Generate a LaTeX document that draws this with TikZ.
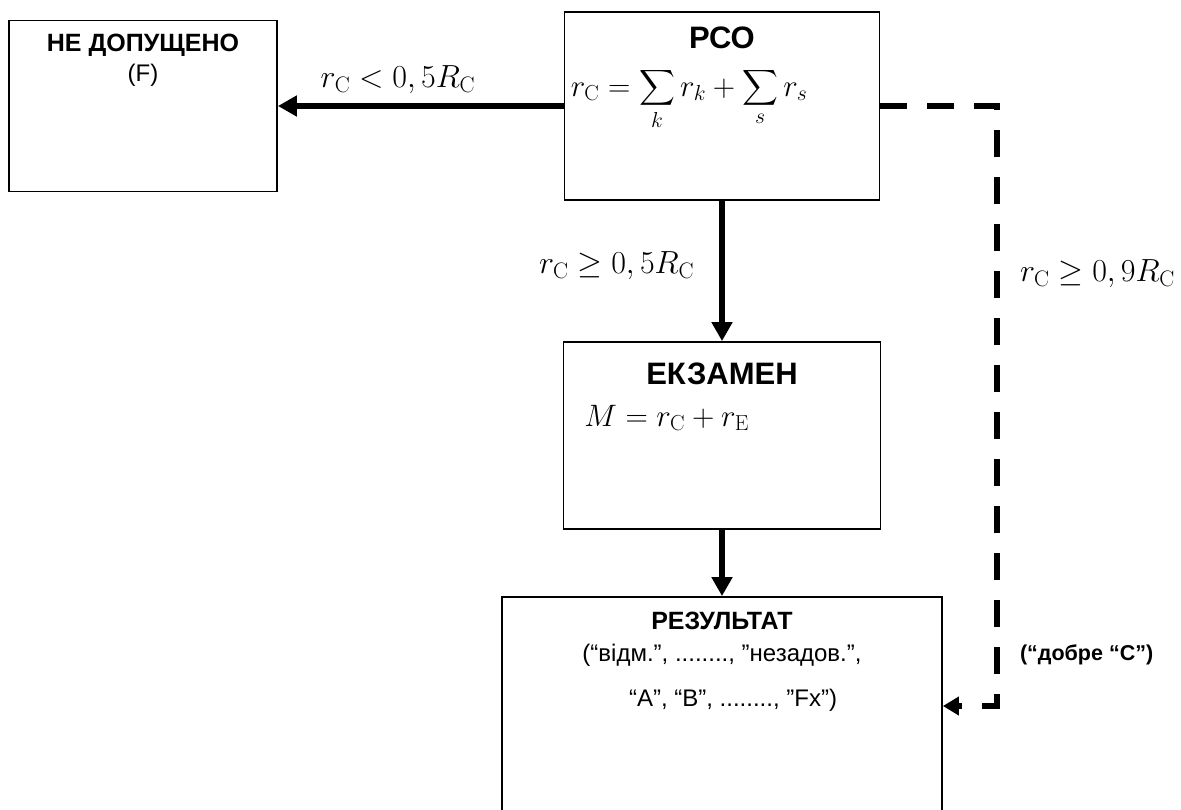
\RequirePackage{fix-cm}
\documentclass[tikz,border=0pt]{standalone}
\usepackage{exscale}
\usepackage{fontspec}
\newfontfamily\arialfont{Liberation Sans}
\usetikzlibrary{positioning, arrows.meta}

\begin{document}
\begin{tikzpicture}[
    x=1pt,
    y=-1pt,
    box/.style={draw, line width=1.8pt, rectangle, inner sep=0pt},
    boxtitle/.style={inner sep=0pt, font=\arialfont\bfseries\fontsize{31}{36}\selectfont},
    smalltitle/.style={inner sep=0pt, font=\arialfont\bfseries\fontsize{25}{30}\selectfont},
    plaintext/.style={inner sep=0pt, font=\arialfont\fontsize{24}{29}\selectfont},
    gradetext/.style={inner sep=0pt, font=\arialfont\bfseries\fontsize{21.5}{26}\selectfont},
    formula/.style={inner sep=0pt, font=\fontsize{31}{37}\selectfont},
    condlabel/.style={inner sep=0pt, font=\fontsize{32}{38}\selectfont},
    flow/.style={-{Triangle[length=19pt, width=20pt]}, line width=6pt},
    dashflow/.style={-{Triangle[length=16pt, width=18pt]}, line width=6pt, dash pattern=on 27pt off 20pt, line join=miter}
]

    % --- Rahmen ---
    \path[use as bounding box, clip] (0,0) rectangle (1181,809);

    % --- Bloecke ---
    \node (nd) [box, minimum width=268pt, minimum height=171pt] at (143,106) {};
    \node (rso) [box, minimum width=315pt, minimum height=188pt] at (722,106) {};
    \node (exam) [box, minimum width=317pt, minimum height=187pt] at (722,435.5) {};
    \node (res) [box, minimum width=440pt, minimum height=240pt] at (722,717) {};

    % Beschriftung: nicht zugelassen
    \node (ndTitle) [smalltitle, below=14pt of nd.north] {НЕ ДОПУЩЕНО};
    \node (ndSub) [plaintext, below=7pt of ndTitle] {(F)};

    % Beschriftung: RSO
    \node (rsoTitle) [boxtitle, below=16pt of rso.north] {РСО};
    \node (rsoSum) [formula, anchor=base west, xshift=7pt, yshift=-85pt] at (rso.north west)
        {$r_{\mathrm{C}} = \displaystyle\sum_{k} r_{k} + \sum_{s} r_{s}$};

    % Beschriftung: Pruefung
    \node (examTitle) [boxtitle, below=22pt of exam.north] {ЕКЗАМЕН};
    \node (examSum) [formula, anchor=base west, xshift=21.5pt, yshift=-85pt] at (exam.north west)
        {$M = r_{\mathrm{C}} + r_{\mathrm{E}}$};

    % Beschriftung: Ergebnis
    \node (resTitle) [smalltitle, below=16pt of res.north] {РЕЗУЛЬТАТ};
    \node (resLineA) [plaintext, below=14pt of resTitle] {(“відм.”, ........, ”незадов.”,};
    \node (resLineB) [plaintext, below=22pt of resLineA, xshift=11pt] {“A”, “B”, ........, ”Fx”)};

    % --- Pfeile ---
    \draw[flow] (rso.west) -- node[condlabel, above=9pt, pos=0.58] (lblFail) {$r_{\mathrm{C}} < 0,5R_{\mathrm{C}}$} (nd.east);
    \draw[flow] (rso.south) -- node[condlabel, left=25pt, pos=0.46] (lblPass) {$r_{\mathrm{C}} \geq 0,5R_{\mathrm{C}}$} (exam.north);
    \draw[flow] (exam.south) -- (res.north);

    % gestrichelter Umweg
    \coordinate (corner) at (997,706);
    \draw[dashflow] (rso.east) -| node[condlabel, right=20pt, pos=0.64] (lblGood) {$r_{\mathrm{C}} \geq 0,9R_{\mathrm{C}}$}
        node[gradetext, right=20pt, pos=0.957] (lblGrade) {(“добре “С”)} (corner) -- (corner -| res.east);

\end{tikzpicture}
\end{document}
